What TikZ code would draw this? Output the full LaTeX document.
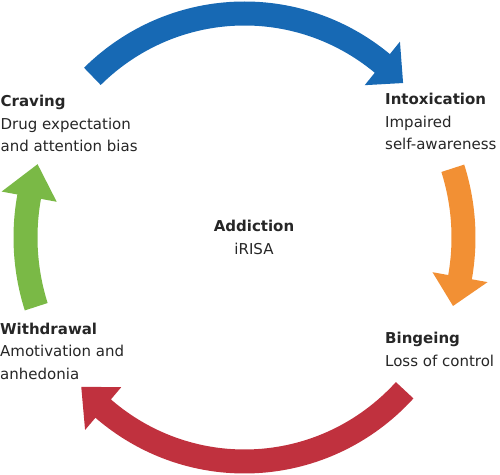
\documentclass[tikz,border=0pt]{standalone}
\usepackage{fontspec}
\setmainfont{DejaVu Sans}
\definecolor{cycblue}{RGB}{23,105,180}
\definecolor{cycorange}{RGB}{242,144,52}
\definecolor{cycred}{RGB}{192,49,62}
\definecolor{cycgreen}{RGB}{122,185,70}
\tikzset{
  stage/.style={align=left, inner sep=0pt, font=\fontsize{15}{22.5}\selectfont, text=black!85},
}
\begin{document}
\begin{tikzpicture}[x=1pt,y=1pt]
            \useasboundingbox (0,0) rectangle (500,474);
            \coordinate (hub) at (244.5,236.5);
            \begin{scope}[shift={(hub)}]
            \foreach \col/\ta/\tb/\tc in {cycblue/134/51/43.6, cycorange/18/-10.2/-17.8, cycred/-43/-130.2/-138.2, cycgreen/198/169.5/160.9}
                \fill[\col] (\ta:231pt and 236pt) arc[start angle=\ta, end angle=\tb, x radius=231pt, y radius=236pt]
                    -- (\tb:247pt and 252pt) -- (\tc:219pt and 224pt) -- (\tb:191pt and 196pt)
                    -- (\tb:207pt and 212pt) arc[start angle=\tb, end angle=\ta, x radius=207pt, y radius=212pt] -- cycle;
            \end{scope}
            % base anchor sits on the last line
            \node[stage, anchor=base west] (craving) at (0.5,322.3) {\textbf{Craving}\\Drug expectation\\and attention bias};
            \node[stage, anchor=base west] (intox) at (385,324) {\textbf{Intoxication}\\Impaired\\self-awareness};
            \node[stage, align=center, anchor=base] (addiction) at (254,219.7) {\textbf{Addiction}\\iRISA};
            \node[stage, anchor=base west] (withdrawal) at (0,94.7) {\textbf{Withdrawal}\\Amotivation and\\anhedonia};
            \node[stage, anchor=base west] (binge) at (385,108) {\textbf{Bingeing}\\Loss of control};
        \end{tikzpicture}
\end{document}
